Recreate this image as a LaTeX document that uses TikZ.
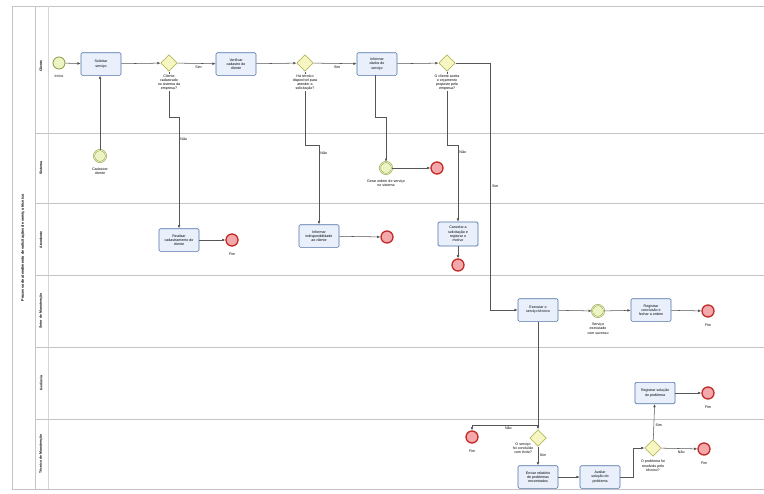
\documentclass[tikz,border=0pt]{standalone}
\usepackage{fontspec}
\setmainfont{Liberation Sans}
\usetikzlibrary{shapes.geometric,arrows.meta,calc}
\definecolor{taskfill}{HTML}{E9F0FB}
\definecolor{taskline}{HTML}{4F72A8}
\definecolor{evfill}{HTML}{EEF3C4}
\definecolor{evline}{HTML}{8A9A3E}
\definecolor{gwfill}{HTML}{F6F6C2}
\definecolor{gwline}{HTML}{B9B960}
\definecolor{endfill}{HTML}{F3A9A9}
\definecolor{endline}{HTML}{C42A2A}
\definecolor{laneline}{HTML}{C4C4C4}
\definecolor{flow}{HTML}{555555}
\begin{document}
\begin{tikzpicture}[x=0.75pt,y=-0.75pt,
  txt/.style={font=\fontsize{2.7}{3.2}\selectfont, align=center},
  taskbox/.style={txt, draw=taskline, fill=taskfill, line width=0.5pt, rounded corners=1pt,
    minimum width=30pt, minimum height=17pt, inner sep=0.5pt},
  startev/.style={circle, draw=evline, fill=evfill, line width=0.6pt, minimum size=9pt, inner sep=0pt},
  midev/.style={circle, draw=evline, fill=evfill, line width=0.35pt, double=evfill, double distance=0.6pt, minimum size=9pt, inner sep=0pt},
  endev/.style={circle, draw=endline, fill=endfill, line width=1pt, minimum size=9pt, inner sep=0pt},
  gw/.style={diamond, draw=gwline, fill=gwfill, line width=0.5pt, minimum size=12.5pt, inner sep=0pt},
  lbl/.style={txt, fill=white, inner sep=0.4pt},
  flw/.style={draw=flow, line width=0.4pt, -{Latex[length=2.4pt,width=2pt]}},
  lanetxt/.style={font=\fontsize{2.6}{3}\selectfont\bfseries, rotate=90}
]
\useasboundingbox (0,0) rectangle (764,493);
\fill[white] (0,0) rectangle (764,493);
% pool and lanes
\draw[laneline, line width=0.7pt] (764,6) -- (12,6) -- (12,489) -- (764,489);
\draw[laneline, line width=0.7pt] (35,6) -- (35,489);
\draw[laneline!70, line width=0.4pt] (48,6) -- (48,489);
\foreach \yy in {133,203,275,347,419}
  \draw[laneline, line width=0.6pt] (35,\yy) -- (764,\yy);
\node[lanetxt, font=\fontsize{2.8}{3}\selectfont\bfseries] (pool) at (23,248) {Processo de atendimento de solicitações de serviço técnico};
\node[lanetxt] (l1) at (41,66) {Cliente};
\node[lanetxt] (l2) at (41,168) {Sistema};
\node[lanetxt] (l3) at (41,240) {Atendente};
\node[lanetxt] (l4) at (41,311) {Setor de Manutenção};
\node[lanetxt] (l5) at (41,383) {Gerência};
\node[lanetxt] (l6) at (41,454) {Técnico de Manutenção};

% lane 1
\node[startev] (st) at (59,63) {};
\node[txt, below=0.8pt] (stl) at (st.south) {Início};
\node[taskbox] (t1) at (101,64) {Solicitar\\serviço};
\node[gw] (g1) at (169,63) {};
\node[taskbox] (t2) at (236,64) {Verificar\\cadastro do\\cliente};
\node[gw] (g2) at (305,63) {};
\node[taskbox] (t4) at (377,64) {Informar\\dados do\\serviço};
\node[gw] (g3) at (447,63) {};

% lane 2
\node[midev] (e1) at (100,156) {};
\node[txt, below=0.8pt] (e1l) at (e1.south) {Cadastrar\\cliente};
\node[midev] (e2) at (386,168) {};
\node[txt, below=0.8pt] (e2l) at (e2.south) {Gerar ordem de serviço\\no sistema};
\node[endev] (x3) at (437,168) {};

% lane 3
\node[taskbox] (t3) at (179,240) {Realizar\\cadastramento do\\cliente};
\node[endev] (x1) at (232,240) {};
\node[txt, below=0.8pt] (x1l) at (x1.south) {Fim};
\node[taskbox] (t5) at (319,236) {Informar\\indisponibilidade\\ao cliente};
\node[endev] (x2) at (387,237) {};
\node[taskbox, minimum height=18pt] (t6) at (458,234) {Cancelar a\\solicitação e\\registrar o\\motivo};
\node[endev] (x4) at (458,265) {};

% lane 4
\node[taskbox] (t7) at (538,310) {Executar o\\serviço técnico};
\node[midev] (e3) at (598,311) {};
\node[txt, below=0.8pt] (e3l) at (e3.south) {Serviço\\executado\\com sucesso};
\node[taskbox] (t8) at (651,310) {Registrar\\conclusão e\\fechar a ordem};
\node[endev] (x5) at (708,311) {};
\node[txt, below=0.8pt] (x5l) at (x5.south) {Fim};

% lane 5
\node[taskbox, minimum height=16pt] (t11) at (655,393) {Registrar solução\\do problema};
\node[endev] (x7) at (708,393) {};
\node[txt, below=0.8pt] (x7l) at (x7.south) {Fim};

% lane 6
\node[endev] (x6) at (472,437) {};
\node[txt, below=0.8pt] (x6l) at (x6.south) {Fim};
\node[gw] (g4) at (538,438) {};
\node[taskbox] (t9) at (538,477) {Enviar relatório\\de problemas\\encontrados};
\node[taskbox] (t10) at (600,477) {Avaliar\\solução do\\problema};
\node[gw] (g5) at (653,448) {};
\node[endev] (x8) at (704,449) {};
\node[txt, below=0.8pt] (x8l) at (x8.south) {Fim};

% connectors
\draw[flw] (st) -- (t1);
\draw[flw] (e1) -- (e1 |- t1.south);
\draw[flw] (t1) -- (g1);
\draw[flw] (g1) -- node[lbl, below=1pt, pos=0.55] {Sim} (t2);
\draw[flw] (g1.south) -- (169,117) -| node[lbl, right=0.5pt, pos=0.6] {Não} (t3.north);
\draw[flw] (t3) -- (x1);
\draw[flw] (t2) -- (g2);
\draw[flw] (g2) -- node[lbl, below=1pt, pos=0.55] {Sim} (t4);
\draw[flw] (g2.south) -- (305,145) -| node[lbl, right=0.5pt, pos=0.55] {Não} (t5.north);
\draw[flw] (t5) -- (x2);
\draw[flw] (375,75.4) -- (375,117) -| (e2.north);
\draw[flw] (e2) -- (x3);
\draw[flw] (t4) -- (g3);
\draw[flw] (g3.south) -- (447,145) -| node[lbl, right=0.5pt, pos=0.55] {Não} (t6.north);
\draw[flw] (t6) -- (x4);
\draw[flw] (g3.east) -- (490,63) -- node[lbl, right=1pt, pos=0.5] {Sim} (490,310) -- (t7.west);
\draw[flw] (t7) -- (e3);
\draw[flw] (e3) -- (t8);
\draw[flw] (t8) -- (x5);
\draw[flw] (t7) -- (g4);
\draw[flw] (538,425) -- node[lbl, below=0.8pt, pos=0.45] {Não} (472,425) -- (x6.north);
\draw[flw] (g4) -- node[lbl, right=0.8pt, pos=0.45] {Sim} (t9);
\draw[flw] (t9) -- (t10);
\draw[flw] (t10.east) -- (633,477) |- (g5.west);
\draw[flw] (g5) -- node[lbl, right=0.8pt, pos=0.4] {Sim} (t11);
\draw[flw] (t11) -- (x7);
\draw[flw] (g5) -- node[lbl, below=0.8pt, pos=0.55] {Não} (x8);

% gateway labels
\node[lbl, below=1.5pt] (g1l) at (g1.south) {Cliente\\cadastrado\\no sistema da\\empresa?};
\node[lbl, below=1.5pt] (g2l) at (g2.south) {Há técnico\\disponível para\\atender a\\solicitação?};
\node[lbl, below=1.5pt] (g3l) at (g3.south) {O cliente aceita\\o orçamento\\proposto pela\\empresa?};
\node[lbl, anchor=north east] (g4l) at (534,442) {O serviço\\foi concluído\\com êxito?};
\node[lbl, below=2pt] (g5l) at (g5.south) {O problema foi\\resolvido pelo\\técnico?};
\end{tikzpicture}
\end{document}
